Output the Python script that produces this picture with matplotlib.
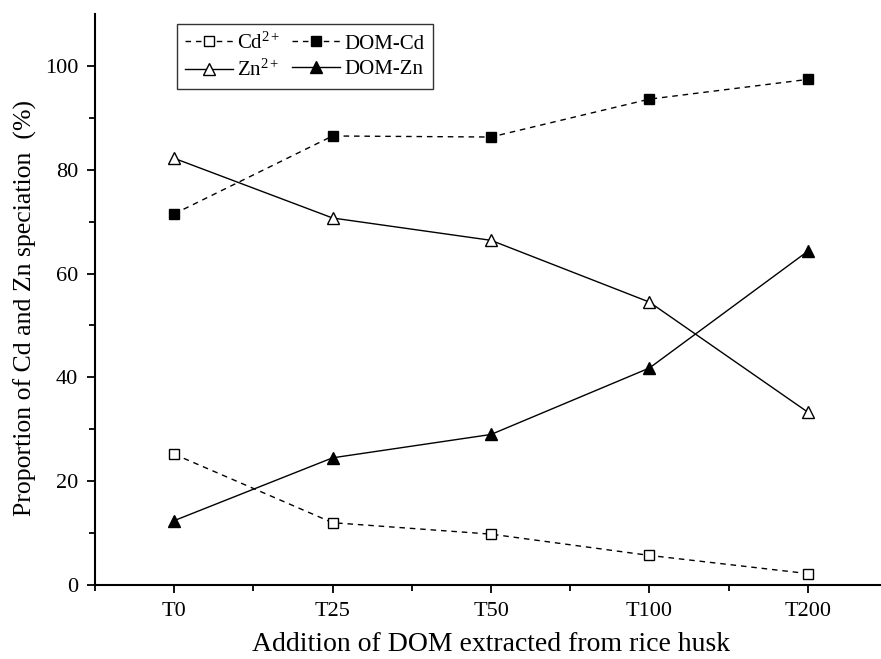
import matplotlib
matplotlib.use("Agg")
import matplotlib.pyplot as plt
from matplotlib.ticker import FixedLocator

plt.rcParams['font.family'] = ['Liberation Serif', 'DejaVu Serif']
plt.rcParams['mathtext.fontset'] = 'custom'
plt.rcParams['mathtext.rm'] = 'Liberation Serif'
plt.rcParams['mathtext.it'] = 'Liberation Serif:italic'

categories = ["T0", "T25", "T50", "T100", "T200"]
cd_free = [25.2, 12.0, 9.8, 5.7, 2.2]
dom_cd = [71.5, 86.5, 86.3, 93.6, 97.4]
zn_free = [82.2, 70.7, 66.4, 54.5, 33.3]
dom_zn = [12.4, 24.5, 29.0, 41.8, 64.3]

fig = plt.figure(figsize=(8.81, 6.59), dpi=100)
ax = fig.add_axes([95/881, 1-585/659, 792/881, 571/659])
x = list(range(len(categories)))

dash = (4, 3.5)
l1, = ax.plot(x, cd_free, color='black', lw=1, dashes=dash, marker='s', ms=6.5,
              mfc='white', mec='black', mew=1, label=r'Cd$^{2+}$')
l2, = ax.plot(x, dom_cd, color='black', lw=1, dashes=dash, marker='s', ms=7,
              mfc='black', mec='black', label='DOM-Cd')
l3, = ax.plot(x, zn_free, color='black', lw=1, marker='^', ms=9,
              mfc='white', mec='black', mew=1, label=r'Zn$^{2+}$')
l4, = ax.plot(x, dom_zn, color='black', lw=1, marker='^', ms=9,
              mfc='black', mec='black', label='DOM-Zn')

ax.set_xlim(-0.5, 4.5)
ax.set_ylim(0, 110)
ax.set_xticks(x)
ax.set_xticklabels(categories)
ax.xaxis.set_minor_locator(FixedLocator([-0.5, 0.5, 1.5, 2.5, 3.5, 4.5]))
ax.yaxis.set_major_locator(FixedLocator([0, 20, 40, 60, 80, 100]))
ax.yaxis.set_minor_locator(FixedLocator([10, 30, 50, 70, 90]))

for s in ['top', 'right']:
    ax.spines[s].set_visible(False)
for s in ['left', 'bottom']:
    ax.spines[s].set_linewidth(1.5)
ax.tick_params(which='major', direction='out', length=6, width=1.3, labelsize=16, pad=6)
ax.tick_params(which='minor', direction='out', length=4, width=1.3)

ax.set_xlabel('Addition of DOM extracted from rice husk', fontsize=20, labelpad=8)
ax.set_ylabel('Proportion of Cd and Zn speciation  (%)', fontsize=18.5, labelpad=6)
ax.yaxis.label.set_y(0.485)

leg = ax.legend(handles=[l1, l3, l2, l4], ncol=2, loc='upper left',
                bbox_to_anchor=((177-95)/792, (585-24)/571), borderaxespad=0,
                fontsize=15, frameon=True, fancybox=False, edgecolor='black',
                handlelength=2.3, handletextpad=0.2, columnspacing=0.55,
                labelspacing=0.3, borderpad=0.4)
leg.get_frame().set_linewidth(1.0)

fig.savefig('out.png', dpi=100)
